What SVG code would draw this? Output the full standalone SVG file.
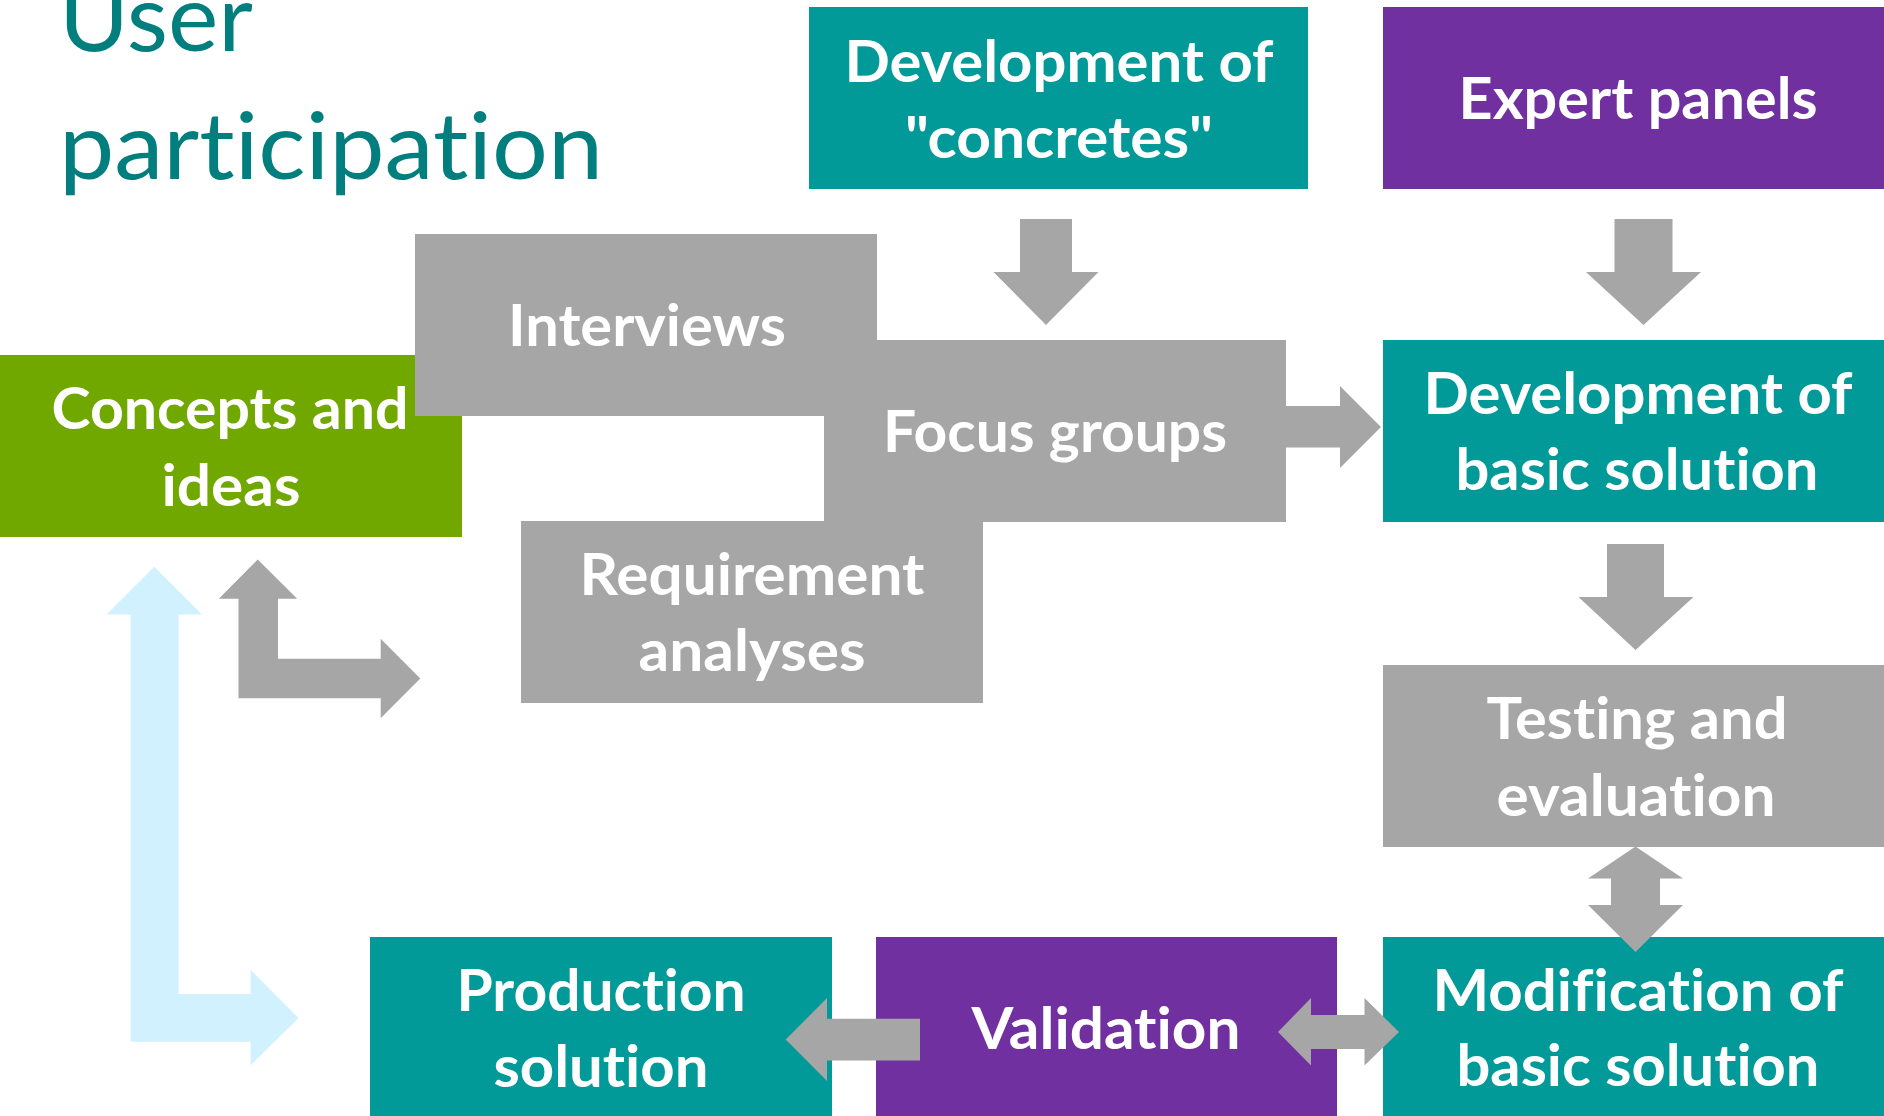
<svg xmlns="http://www.w3.org/2000/svg" width="1884" height="1116" viewBox="0 0 1884 1116">
<style>
.teal{fill:#029A98}
.purple{fill:#7030A0}
.green{fill:#71A800}
.gray{fill:#A6A6A6}
text{font-variant-ligatures:none;font-feature-settings:"liga" 0,"clig" 0,"dlig" 0}
.lbl{font-family:Lato,"Liberation Sans",sans-serif;font-weight:bold;font-size:57px;fill:#FFFFFF;text-anchor:middle}
.title{font-family:Lato,"Liberation Sans",sans-serif;font-size:93px;fill:#027E7E}
.arr{fill:#A6A6A6}
.arrlb{fill:#D2F1FF}
</style>
<rect width="1884" height="1116" fill="#FFFFFF"/>
<g id="title">
<text class="title" x="59" y="51" textLength="194" lengthAdjust="spacingAndGlyphs">User</text>
<text class="title" x="59" y="179" textLength="544" lengthAdjust="spacingAndGlyphs">participation</text>
</g>
<g id="concretes">
<rect class="teal" x="809" y="7" width="499" height="182"/>
<text class="lbl" x="1059" y="82" textLength="429" lengthAdjust="spacingAndGlyphs">Development of</text>
<text class="lbl" x="1059" y="158" textLength="308" lengthAdjust="spacingAndGlyphs">"concretes"</text>
</g>
<g id="expert">
<rect class="purple" x="1383" y="7" width="510" height="182"/>
<text class="lbl" x="1638" y="119" textLength="359" lengthAdjust="spacingAndGlyphs">Expert panels</text>
</g>
<g id="concepts">
<rect class="green" x="-2" y="355" width="464" height="182"/>
<text class="lbl" x="230" y="429" textLength="357" lengthAdjust="spacingAndGlyphs">Concepts and</text>
<text class="lbl" x="231" y="506" textLength="139" lengthAdjust="spacingAndGlyphs">ideas</text>
</g>
<g id="interviews">
<rect class="gray" x="415" y="234" width="462" height="182"/>
<text class="lbl" x="647" y="346" textLength="278" lengthAdjust="spacingAndGlyphs">Interviews</text>
</g>
<g id="focus">
<rect class="gray" x="824" y="340" width="462" height="182"/>
<text class="lbl" x="1055" y="452" textLength="344" lengthAdjust="spacingAndGlyphs">Focus groups</text>
</g>
<g id="devbasic">
<rect class="teal" x="1383" y="340" width="510" height="182"/>
<text class="lbl" x="1638" y="414" textLength="429" lengthAdjust="spacingAndGlyphs">Development of</text>
<text class="lbl" x="1637" y="490" textLength="363" lengthAdjust="spacingAndGlyphs">basic solution</text>
</g>
<g id="requirement">
<rect class="gray" x="521" y="521" width="462" height="182"/>
<text class="lbl" x="752" y="595" textLength="345" lengthAdjust="spacingAndGlyphs">Requirement</text>
<text class="lbl" x="752" y="671" textLength="227" lengthAdjust="spacingAndGlyphs">analyses</text>
</g>
<g id="testing">
<rect class="gray" x="1383" y="665" width="510" height="182"/>
<text class="lbl" x="1637" y="739" textLength="301" lengthAdjust="spacingAndGlyphs">Testing and</text>
<text class="lbl" x="1636" y="816" textLength="279" lengthAdjust="spacingAndGlyphs">evaluation</text>
</g>
<g id="production">
<rect class="teal" x="370" y="937" width="462" height="182"/>
<text class="lbl" x="601" y="1011" textLength="289" lengthAdjust="spacingAndGlyphs">Production</text>
<text class="lbl" x="601" y="1087" textLength="215" lengthAdjust="spacingAndGlyphs">solution</text>
</g>
<g id="validation">
<rect class="purple" x="876" y="937" width="461" height="182"/>
<text class="lbl" x="1106" y="1049" textLength="269" lengthAdjust="spacingAndGlyphs">Validation</text>
</g>
<g id="modification">
<rect class="teal" x="1383" y="937" width="510" height="182"/>
<text class="lbl" x="1638" y="1011" textLength="411" lengthAdjust="spacingAndGlyphs">Modification of</text>
<text class="lbl" x="1638" y="1086" textLength="363" lengthAdjust="spacingAndGlyphs">basic solution</text>
</g>
<g id="connectors">
<polygon class="arr" points="1020,219 1072,219 1072,272 1098.5,272 1046,325 993.5,272 1020,272"/>
<polygon class="arr" points="1614.5,219 1672.5,219 1672.5,272 1701,272 1643.5,325 1586,272 1614.5,272"/>
<polygon class="arr" points="1284,406 1340,406 1340,386 1381,427 1340,468 1340,447.5 1284,447.5"/>
<polygon class="arr" points="1607,544 1664,544 1664,597 1693.5,597 1635.5,650 1578.5,597 1607,597"/>
<polygon class="arr" points="1635.5,846.5 1683,878.5 1660,878.5 1660,905 1683,905 1635.5,952 1588,905 1611,905 1611,878.5 1588,878.5"/>
<polygon class="arr" points="1278,1032 1311,998 1311,1015 1364.5,1015 1364.5,998 1399,1032 1364.5,1065.5 1364.5,1049 1311,1049 1311,1065.5"/>
<polygon class="arr" points="920,1018.7 920,1060.6 827,1060.6 827,1081 785.7,1039.6 827,998 827,1018.7"/>
<polygon class="arr" points="257.7,559.5 297.2,598.8 278,598.8 278,658.7 380.7,658.7 380.7,638.8 420.3,678.5 380.7,718.2 380.7,698.3 238.5,698.3 238.5,598.8 218.8,598.8"/>
<polygon class="arrlb" points="154.3,566.8 202.2,614.6 178.6,614.6 178.6,994 250.6,994 250.6,969.8 298.5,1018 250.6,1065.4 250.6,1041.8 130.7,1041.8 130.7,614.6 106.5,614.6"/>
</g>
</svg>
